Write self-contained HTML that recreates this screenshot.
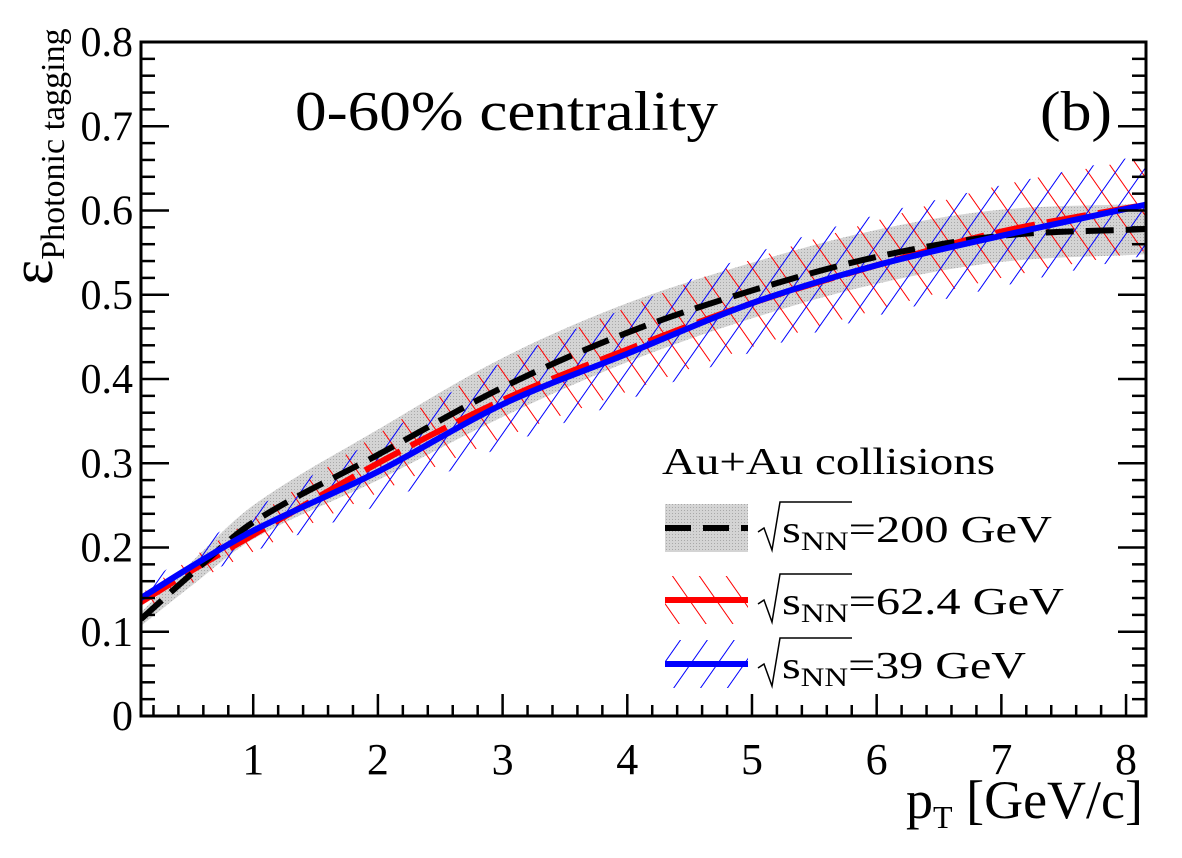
<!DOCTYPE html>
<html><head><meta charset="utf-8"><style>
body{margin:0;background:#fff}
svg text{font-family:"Liberation Serif",serif;fill:#000}
</style></head><body>
<svg id="chart" width="1182" height="853" viewBox="0 0 1182 853">
<defs>
<pattern id="gray" patternUnits="userSpaceOnUse" width="3" height="3"><rect width="3" height="3" fill="#d4d4d4"/><rect width="1" height="1" fill="#a8a8a8"/></pattern>
<pattern id="hatchRed" patternUnits="userSpaceOnUse" width="22" height="22" patternTransform="rotate(-35)"><line x1="0" y1="0" x2="0" y2="22" stroke="#f00" stroke-width="2"/></pattern>
<pattern id="hatchBlue" patternUnits="userSpaceOnUse" width="22" height="22" patternTransform="rotate(35)"><line x1="0" y1="0" x2="0" y2="22" stroke="#00f" stroke-width="2"/></pattern>
<clipPath id="plotclip"><rect x="141" y="42" width="1005" height="674"/></clipPath>
</defs>
<g id="bands" clip-path="url(#plotclip)"></g>
<g id="lines" clip-path="url(#plotclip)"></g>
<g id="axes"></g>
<text x="295" y="130" font-size="56" textLength="423" lengthAdjust="spacingAndGlyphs">0-60% centrality</text>
<text x="1040" y="130" font-size="56" textLength="72" lengthAdjust="spacingAndGlyphs">(b)</text>
<text transform="translate(52,285) rotate(-90)" font-size="60">ε<tspan font-size="34" dy="12">Photonic tagging</tspan></text>
<text x="1143" y="818" text-anchor="end" font-size="54">p<tspan font-size="32" dy="10">T</tspan><tspan dy="-10"> [GeV/c]</tspan></text>
<g>
<text x="662" y="474" font-size="38" textLength="333" lengthAdjust="spacingAndGlyphs">Au+Au collisions</text>
<g>
<rect x="665" y="504" width="83" height="48" fill="url(#gray)"/>
<line x1="665" y1="528" x2="748" y2="528" stroke="#000" stroke-width="6" stroke-dasharray="26,12"/>
<path d="M758 532 l6 -4 l8 22 l8 -48 h72" fill="none" stroke="#000" stroke-width="1.5"/>
<text x="782" y="542" font-size="38" textLength="270" lengthAdjust="spacingAndGlyphs">s<tspan font-size="26" dy="8">NN</tspan><tspan dy="-8">=200 GeV</tspan></text>
</g>
<g>
<rect x="665" y="576" width="83" height="48" fill="url(#hatchRed)"/>
<line x1="665" y1="600" x2="748" y2="600" stroke="#f00" stroke-width="6"/>
<path d="M758 604 l6 -4 l8 22 l8 -48 h72" fill="none" stroke="#000" stroke-width="1.5"/>
<text x="782" y="614" font-size="38" textLength="282" lengthAdjust="spacingAndGlyphs">s<tspan font-size="26" dy="8">NN</tspan><tspan dy="-8">=62.4 GeV</tspan></text>
</g>
<g>
<rect x="665" y="640" width="83" height="48" fill="url(#hatchBlue)"/>
<line x1="665" y1="664" x2="748" y2="664" stroke="#00f" stroke-width="6"/>
<path d="M758 668 l6 -4 l8 22 l8 -48 h72" fill="none" stroke="#000" stroke-width="1.5"/>
<text x="782" y="678" font-size="38" textLength="244" lengthAdjust="spacingAndGlyphs">s<tspan font-size="26" dy="8">NN</tspan><tspan dy="-8">=39 GeV</tspan></text>
</g>
</g>
</svg>
<script>
const pT = [0.1, 0.5, 1, 2, 3, 4, 5, 6, 7, 8.16];
const eff200 = [0.115, 0.168, 0.23, 0.31, 0.39, 0.455, 0.505, 0.545, 0.57, 0.578];
const err200 = [0.008, 0.014, 0.02, 0.03, 0.035, 0.035, 0.033, 0.032, 0.031, 0.03];
const eff62 = [0.135, 0.172, 0.215, 0.30, 0.375, 0.435, 0.49, 0.535, 0.575, 0.607];
const err62 = [0.01, 0.015, 0.02, 0.035, 0.045, 0.05, 0.052, 0.053, 0.055, 0.055];
const eff39 = [0.14, 0.177, 0.22, 0.29, 0.37, 0.43, 0.49, 0.535, 0.57, 0.607];
const err39 = [0.012, 0.018, 0.025, 0.04, 0.05, 0.055, 0.058, 0.06, 0.06, 0.06];
const xTicks = [1,2,3,4,5,6,7,8];
const yTicks = [0,0.1,0.2,0.3,0.4,0.5,0.6,0.7,0.8];
const yTickLabels = ["0","0.1","0.2","0.3","0.4","0.5","0.6","0.7","0.8"];

const X0=141,X1=1146,Y0=716,Y1=42,XMIN=0.1,XMAX=8.16,YMIN=0,YMAX=0.8;
const sx=v=>X0+(v-XMIN)/(XMAX-XMIN)*(X1-X0);
const sy=v=>Y0-(v-YMIN)/(YMAX-YMIN)*(Y0-Y1);
const NS="http://www.w3.org/2000/svg";
function mk(tag,attrs,parent){const e=document.createElementNS(NS,tag);for(const k in attrs)e.setAttribute(k,attrs[k]);parent.appendChild(e);return e;}
function smooth(xs,ys){
  const p=xs.map((x,i)=>[sx(x),sy(ys[i])]);
  let d="";
  for(let i=0;i<p.length-1;i++){
    const p0=p[Math.max(i-1,0)],p1=p[i],p2=p[i+1],p3=p[Math.min(i+2,p.length-1)];
    const h=p2[0]-p1[0];
    const m1=(p2[1]-p0[1])/(p2[0]-p0[0]||1), m2=(p3[1]-p1[1])/(p3[0]-p1[0]||1);
    const c1=[p1[0]+h/3,p1[1]+m1*h/3];
    const c2=[p2[0]-h/3,p2[1]-m2*h/3];
    d+=(i?"":"M"+p1[0]+" "+p1[1])+" C"+c1+" "+c2+" "+p2;
  }
  return d;
}
function band(ys,es){
  const up=ys.map((v,i)=>v+es[i]), lo=ys.map((v,i)=>v-es[i]);
  const a=smooth(pT,up);
  const rx=pT.slice().reverse(), rl=lo.slice().reverse();
  const b=smooth(rx,rl).replace(/^M/,"L");
  return a+" "+b+" Z";
}
const bands=document.getElementById('bands'), lines=document.getElementById('lines'), axes=document.getElementById('axes');
let e;
e=mk('path',{d:band(eff200,err200),fill:'url(#gray)'},bands);


e=mk('path',{d:band(eff62,err62),fill:'url(#hatchRed)'},bands);


e=mk('path',{d:band(eff39,err39),fill:'url(#hatchBlue)'},bands);


e=mk('path',{d:smooth(pT,eff62),fill:'none',stroke:'#f00','stroke-width':6,'stroke-dasharray':'40,12'},lines);


e=mk('path',{d:smooth(pT,eff200),fill:'none',stroke:'#000','stroke-width':6,'stroke-dasharray':'28,12'},lines);


e=mk('path',{d:smooth(pT,eff39),fill:'none',stroke:'#00f','stroke-width':6},lines);


e=mk('rect',{x:X0,y:Y1,width:X1-X0,height:Y0-Y1,fill:'none',stroke:'#000','stroke-width':3},axes);


for(let v=0.2;v<=8.16;v+=0.2){
  const vv=Math.round(v*10)/10;
  const major=Math.abs(vv-Math.round(vv))<1e-6;
  const L=major?22:11;
  mk('line',{x1:sx(vv),x2:sx(vv),y1:Y0,y2:Y0-L,stroke:'#000','stroke-width':2.5},axes);
}
xTicks.forEach(v=>{
  e=mk('text',{x:sx(v),y:Y0+58,'font-size':44,'text-anchor':'middle'},axes);
  e.textContent=v;
  
  
});
for(let k=0;k<=40;k++){
  const v=k*0.02;
  const major=k%5==0;
  const L=major?28:14;
  mk('line',{x1:X0,x2:X0+L,y1:sy(v),y2:sy(v),stroke:'#000','stroke-width':2.5},axes);
  mk('line',{x1:X1,x2:X1-L,y1:sy(v),y2:sy(v),stroke:'#000','stroke-width':2.5},axes);
}
yTicks.forEach((v,i)=>{
  e=mk('text',{x:X0-8,y:sy(v)+14,'font-size':42,'text-anchor':'end'},axes);
  e.textContent=yTickLabels[i];
  
  
});
</script>
</body></html>
